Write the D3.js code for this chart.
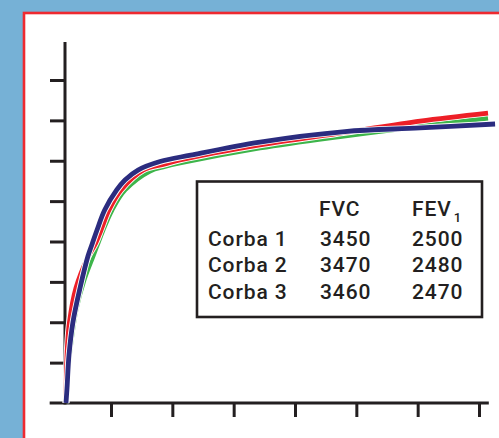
<!DOCTYPE html>
<html><head><meta charset="utf-8">
<script src="https://cdn.jsdelivr.net/npm/d3@7"></script>
<style>
html,body{margin:0;padding:0;background:#76b1d6;}
svg{display:block;}
text{font-family:Roboto,"Noto Sans",sans-serif;fill:#231f20;}
</style></head>
<body>
<script>
// time (s) and volume (L)
const red_t   = [0.266,0.274,0.291,0.323,0.429,0.633,0.751,0.837,0.967,1.163,1.522,1.880,2.125,3.430,4.815,6.039,7.147];
const red_v   = [0,0.409,0.718,1.003,1.424,1.820,1.981,2.142,2.390,2.638,2.885,2.960,3.009,3.195,3.350,3.492,3.591];
const green_t = [0.266,0.299,0.332,0.429,0.560,0.707,0.788,0.870,1.016,1.228,1.636,1.880,2.125,3.430,4.735,6.039,7.147];
const green_v = [0,0.409,0.656,1.152,1.523,1.820,1.981,2.142,2.390,2.638,2.873,2.929,2.972,3.158,3.300,3.425,3.529];
const blue_t  = [0.266,0.283,0.315,0.380,0.495,0.625,0.698,0.772,0.897,1.093,1.228,1.441,1.800,2.300,3.430,4.815,6.039,7.262];
const blue_v  = [0,0.186,0.594,1.003,1.424,1.820,1.981,2.142,2.390,2.638,2.762,2.885,2.990,3.070,3.232,3.362,3.406,3.455];

const xTicks = [1,2,3,4,5,6,7];
const yTicks = [0.5,1,1.5,2,2.5,3,3.5,4];

const tableHeader = ["FVC","FEV"];
const rowNames = ["Corba 1","Corba 2","Corba 3"];
const fvc = [3450,3470,3460];
const fev1 = [2500,2480,2470];

const W=499,H=438;
const svg=d3.select("body").append("svg").attr("width",W).attr("height",H);

// frame
svg.append("rect").attr("x",24).attr("y",13).attr("width",520).attr("height",460)
  .attr("fill","#fff").attr("stroke","#ee2a30").attr("stroke-width",2.6);

const x=d3.scaleLinear().domain([0,7]).range([49.67,479]);
const y=d3.scaleLinear().domain([0,4]).range([403,80]);
const ink="#231f20";

// y axis
const yAx=svg.append("g").attr("transform",`translate(${x(0.25)},0)`)
  .call(d3.axisLeft(y).tickValues(yTicks).tickSize(15).tickFormat(""));
yAx.select(".domain").remove();
yAx.selectAll("line").attr("stroke",ink).attr("stroke-width",3);
svg.append("line").attr("x1",x(0.25)).attr("x2",x(0.25)).attr("y1",y(4.47)).attr("y2",y(0)+1.5)
  .attr("stroke",ink).attr("stroke-width",3);

// x axis
const xAx=svg.append("g").attr("transform",`translate(0,${y(0)})`)
  .call(d3.axisBottom(x).tickValues(xTicks).tickSize(14).tickFormat(""));
xAx.select(".domain").remove();
xAx.selectAll("line").attr("stroke",ink).attr("stroke-width",3);
svg.append("line").attr("x1",x(0)).attr("x2",x(7.16)).attr("y1",y(0)).attr("y2",y(0))
  .attr("stroke",ink).attr("stroke-width",3);

// curves
const line=d3.line().x(d=>x(d[0])).y(d=>y(d[1])).curve(d3.curveCatmullRom.alpha(0.5));
const series=[
  {t:green_t,v:green_v,c:"#3db54a"},
  {t:red_t,v:red_v,c:"#ed1f27"},
  {t:blue_t,v:blue_v,c:"#2b2c7f"}
];
series.forEach(s=>{
  const pts=s.t.map((t,i)=>[t,s.v[i]]);
  svg.append("path").attr("d",line(pts)).attr("fill","none").attr("stroke","#fff").attr("stroke-width",6.6);
  svg.append("path").attr("d",line(pts)).attr("fill","none").attr("stroke",s.c).attr("stroke-width",4.8);
});

// table box
svg.append("rect").attr("x",197).attr("y",181.5).attr("width",285).attr("height",135.5)
  .attr("fill","#fff").attr("stroke",ink).attr("stroke-width",2.6);
const fs=21, ls=0.9;
const g=svg.append("g").style("font-size",fs+"px").style("letter-spacing",ls+"px").style("font-weight",500);
g.append("text").attr("x",319).attr("y",216).text(tableHeader[0]);
const fevT=g.append("text").attr("x",412).attr("y",216).text(tableHeader[1]);
fevT.append("tspan").attr("dy",6).attr("dx",2).style("font-size","13px").text("1");
const rowsY=[245.5,272,298.5];
rowNames.forEach((n,i)=>{
  g.append("text").attr("x",208).attr("y",rowsY[i]).text(n);
  g.append("text").attr("x",320).attr("y",rowsY[i]).text(fvc[i]);
  g.append("text").attr("x",412).attr("y",rowsY[i]).text(fev1[i]);
});
</script>
</body></html>
